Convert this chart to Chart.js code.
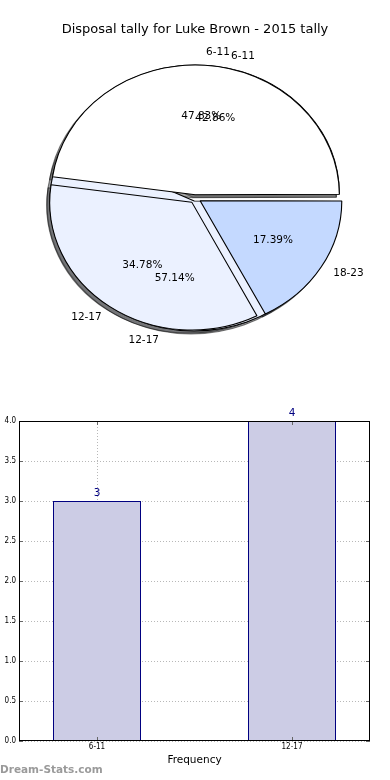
<!DOCTYPE html>
<html><head><meta charset="utf-8">
<script src="https://cdn.jsdelivr.net/npm/chart.js@4"></script>
<style>
html,body{margin:0;padding:0;background:#fff;}
#wrap{position:relative;width:390px;height:780px;overflow:hidden;background:#fff}
#pieA{position:absolute;left:0;top:0}
#bar{position:absolute;left:0;top:390px}
#pieB{position:absolute;left:-3000px;top:0}
</style></head><body>
<div id="wrap">
<canvas id="pieA" width="390" height="390"></canvas>
<canvas id="bar" width="390" height="390"></canvas>
</div>
<canvas id="pieB" width="390" height="390"></canvas>
<script>
// ---- data ----
const chartTitle = 'Disposal tally for Luke Brown - 2015 tally';
const pieCategoriesA = ['6-11', '12-17', '18-23'];
const pieValuesA = [11, 8, 4];
const pieColorsA = ['#ffffff', '#ebf1ff', '#c4d9ff'];
const pieCategoriesB = ['6-11', '12-17'];
const pieValuesB = [3, 4];
const pieColorsB = ['#ffffff', '#ebf1ff'];
const barCategories = ['6-11', '12-17'];
const barValues = [3, 4];
const yTickStep = 0.5;
const yMin = 0, yMax = 4;
const xAxisTitle = 'Frequency';
const watermark = 'Dream-Stats.com';

// ---- style constants ----
const FONT = "'DejaVu Sans', 'Liberation Sans', sans-serif";
const SX = 141 / 127;   // horizontal stretch of the pie (ellipse)
const R = 127;          // pie radius (vertical)
const EXPLODE = 6;      // px shift of every wedge
const SMALL = "'DejaVu Sans Condensed', 'DejaVu Sans', sans-serif";

Chart.defaults.font.family = FONT;
Chart.defaults.color = '#000';

function sum(a) { return a.reduce((s, v) => s + v, 0); }
// Chart.js arc offset => real translation = offset/4*(1+fix); invert to get EXPLODE px
function offsetsFor(vals) {
  const t = sum(vals);
  return vals.map(v => {
    const c = v / t * Math.PI * 2;
    const fix = 1 - Math.sin(Math.min(Math.PI, c));
    return 4 * EXPLODE / (1 + fix);
  });
}
const rev = a => a.slice().reverse();

function pieConfig(labels, values, colors, withTitle, plugins) {
  return {
    type: 'pie',
    data: {
      labels: rev(labels),
      datasets: [{
        data: rev(values),
        backgroundColor: rev(colors),
        borderColor: '#000',
        borderWidth: 1,
        offset: rev(offsetsFor(values)),
        radius: R,
        clip: false
      }]
    },
    options: {
      responsive: false,
      animation: false,
      devicePixelRatio: 1,
      events: [],
      rotation: 90,
      layout: { padding: withTitle ? { top: 0, bottom: 31.6 } : { top: 37.6, bottom: 31.6 } },
      plugins: {
        legend: { display: false },
        tooltip: { enabled: false },
        title: {
          display: withTitle,
          text: chartTitle,
          color: '#000',
          font: { family: FONT, size: 13, weight: 'normal', lineHeight: 1.2 },
          padding: { top: 22, bottom: 0 }
        }
      }
    },
    plugins: plugins || []
  };
}

const chartB = new Chart(document.getElementById('pieB'), pieConfig(pieCategoriesB, pieValuesB, pieColorsB, false));

function drawPieLabels(ctx, arcs, labels, values) {
  const total = sum(values);
  ctx.save();
  ctx.fillStyle = '#000';
  ctx.font = '10.5px ' + FONT;
  ctx.textBaseline = 'middle';
  arcs.forEach((a, i) => {
    const { x, y, startAngle, endAngle } = a;
    const mid = (startAngle + endAngle) / 2;
    const circ = endAngle - startAngle;
    const fix = 1 - Math.sin(Math.min(Math.PI, circ));
    const d = (a.options.offset || 0) / 4 * (1 + fix);
    const c = Math.cos(mid), s = Math.sin(mid);
    const ox = x + c * d * SX, oy = y + s * d;
    ctx.textAlign = c > 0 ? 'left' : 'right';
    ctx.fillText(labels[i], ox + c * 1.1 * R * SX, oy + s * 1.1 * R);
    ctx.textAlign = 'center';
    ctx.fillText((values[i] / total * 100).toFixed(2) + '%', ox + c * 0.6 * R * SX, oy + s * 0.6 * R);
  });
  ctx.restore();
}

const piePlugin = {
  id: 'pieOverlay',
  beforeDatasetsDraw(chart) {
    const ctx = chart.ctx;
    const arcsA = chart.getDatasetMeta(0).data;
    const arcsB = chartB.getDatasetMeta(0).data;
    const cx = arcsA[0].x, cy = arcsA[0].y;
    ctx.save();
    ctx.translate(cx, cy); ctx.scale(SX, 1); ctx.translate(-cx, -cy);
    // shadows (below every wedge)
    ctx.save();
    ctx.filter = 'brightness(0.3)';
    ctx.globalAlpha = 0.5;
    ctx.translate(-3 / SX, 3);
    arcsB.forEach(a => a.draw(ctx));
    arcsA.forEach(a => a.draw(ctx));
    ctx.restore();
    // second pie below the first
    arcsB.forEach(a => a.draw(ctx));
  },
  afterDatasetsDraw(chart) {
    const ctx = chart.ctx;
    ctx.restore();
    drawPieLabels(ctx, chartB.getDatasetMeta(0).data, rev(pieCategoriesB), rev(pieValuesB));
    drawPieLabels(ctx, chart.getDatasetMeta(0).data, rev(pieCategoriesA), rev(pieValuesA));
  }
};

const chartA = new Chart(document.getElementById('pieA'), pieConfig(pieCategoriesA, pieValuesA, pieColorsA, true, [piePlugin]));

// ---- bar chart ----
const barPlugin = {
  id: 'barExtras',
  afterDraw(chart) {
    const ctx = chart.ctx;
    const a = chart.chartArea;
    const xs = chart.scales.x, ys = chart.scales.y;
    ctx.save();
    // inward tick marks
    ctx.strokeStyle = '#666';
    ctx.lineWidth = 1;
    ctx.beginPath();
    ys.ticks.forEach(t => {
      const py = Math.round(ys.getPixelForValue(t.value)) + 0.5;
      ctx.moveTo(a.left, py); ctx.lineTo(a.left + 4, py);
      ctx.moveTo(a.right, py); ctx.lineTo(a.right - 4, py);
    });
    xs.ticks.forEach(t => {
      const px = Math.round(xs.getPixelForValue(t.value)) + 0.5;
      ctx.moveTo(px, a.bottom); ctx.lineTo(px, a.bottom - 4);
      ctx.moveTo(px, a.top); ctx.lineTo(px, a.top + 4);
    });
    ctx.stroke();
    // frame
    ctx.strokeStyle = '#000';
    ctx.strokeRect(a.left + 0.5, a.top + 0.5, a.right - a.left - 1, a.bottom - a.top - 1);
    // value labels
    ctx.fillStyle = '#000080';
    ctx.font = '10.5px ' + FONT;
    ctx.textAlign = 'center';
    ctx.textBaseline = 'middle';
    chart.getDatasetMeta(0).data.forEach((el, i) => {
      ctx.fillText(String(barValues[i]), el.x, el.y - 8);
    });
    // watermark
    ctx.fillStyle = '#9a9a9a';
    ctx.font = 'bold 10.5px ' + FONT;
    ctx.textAlign = 'left';
    ctx.fillText(watermark, 0, 380);
    ctx.restore();
  }
};

new Chart(document.getElementById('bar'), {
  type: 'bar',
  data: {
    datasets: [{
      data: barValues.map((v, i) => ({ x: i, y: v })),
      backgroundColor: '#ccccE5',
      borderColor: '#000080',
      borderWidth: 1,
      barPercentage: 88 / 195,
      categoryPercentage: 1
    }]
  },
  options: {
    responsive: false,
    animation: false,
    devicePixelRatio: 1,
    events: [],
    layout: { padding: { top: 31, right: 20, left: 0, bottom: 0 } },
    plugins: { legend: { display: false }, tooltip: { enabled: false } },
    scales: {
      x: {
        type: 'linear',
        min: -0.4, max: 1.4,
        offset: false,
        z: 1,
        afterBuildTicks: s => { s.ticks = barCategories.map((c, i) => ({ value: i })); },
        afterFit: s => { s.height = 39; },
        ticks: {
          callback: v => barCategories[v],
          autoSkip: false, maxRotation: 0, padding: 1,
          color: '#000',
          font: { family: SMALL, size: 8 }
        },
        grid: { color: 'rgba(0,0,0,0.28)', drawTicks: false, lineWidth: 1, offset: false },
        border: { display: false, dash: [1, 2] },
        title: {
          display: true, text: xAxisTitle, color: '#000',
          font: { family: FONT, size: 10.5, lineHeight: 1.2 },
          padding: { top: 0, bottom: 13.7 }
        }
      },
      y: {
        min: yMin, max: yMax,
        z: 1,
        afterFit: s => { s.width = 19; },
        ticks: {
          stepSize: yTickStep,
          callback: v => Number(v).toFixed(1),
          padding: 3,
          color: '#000',
          font: { family: SMALL, size: 8 }
        },
        grid: { color: 'rgba(0,0,0,0.28)', drawTicks: false, lineWidth: 1 },
        border: { display: false, dash: [1, 2] }
      }
    }
  },
  plugins: [barPlugin]
});
</script>
</body></html>
